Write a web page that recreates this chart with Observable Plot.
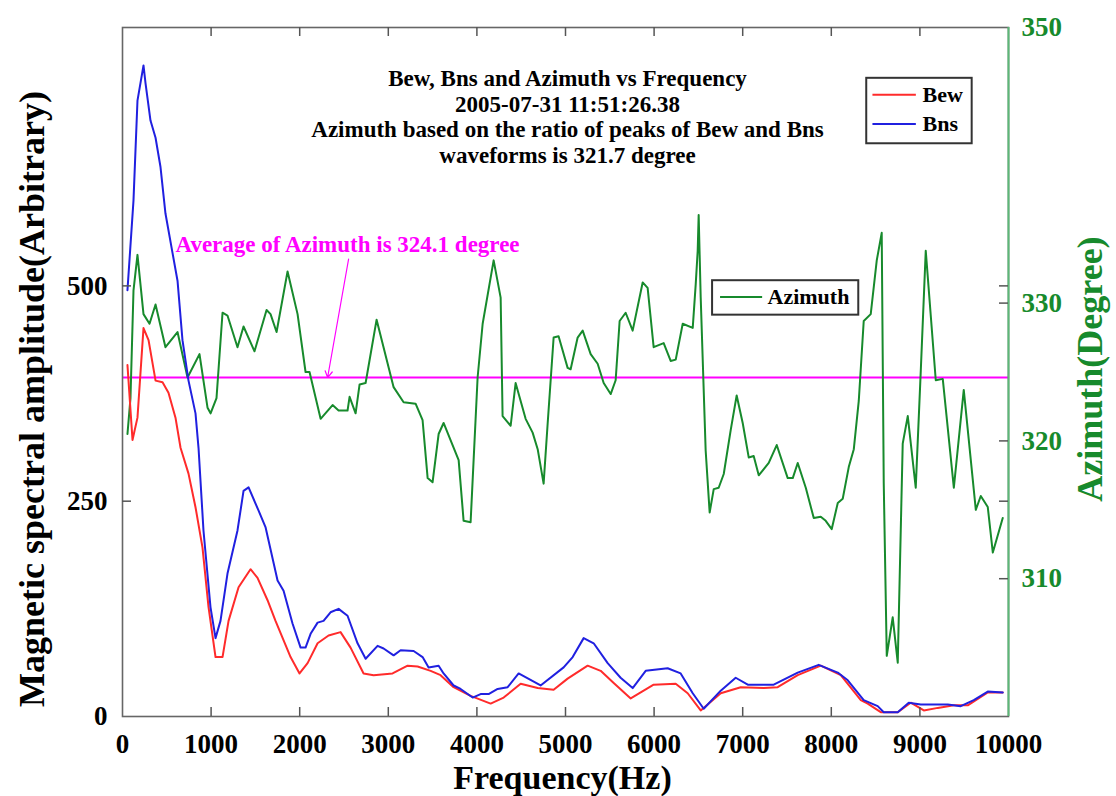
<!DOCTYPE html>
<html><head><meta charset="utf-8">
<script src="https://cdn.jsdelivr.net/npm/d3@7"></script>
<script src="https://cdn.jsdelivr.net/npm/@observablehq/plot@0.6"></script>
<style>html,body{margin:0;background:#fff;} #chart svg{display:block}</style>
</head><body><div id="chart"></div>
<script>
// ---- data ----
const bnsFreq = [56,124,169,237,260,316,373,429,485,565,621,677,745,824,858,914,993,1050,1106,1185,1298,1366,1423,1536,1614,1750,1818,1919,2010,2066,2123,2202,2269,2348,2439,2540,2653,2744,2879,2947,3060,3139,3286,3387,3455,3568,3624,3737,3816,3952,4042,4132,4234,4347,4471,4719,4979,5081,5205,5318,5476,5622,5758,5905,6153,6300,6436,6560,6752,6921,7057,7350,7621,7858,8073,8186,8366,8524,8592,8750,8874,9010,9315,9461,9608,9766,9935];
const bnsAmp  = [495,599,715,756,735,692,672,638,584,538,506,437,390,352,312,216,127,91,111,166,216,262,266,239,220,158,146,108,80,80,96,109,111,121,125,117,85,67,82,79,71,77,76,69,57,59,50,36,32,22,26,26,32,34,50,36,57,69,91,85,62,45,33,53,56,50,27,9,30,45,37,37,51,60,51,42,19,12,5,5,16,14,14,12,19,29,28];

const bewFreq = [56,113,169,237,294,373,452,519,598,655,745,824,903,971,1050,1129,1197,1310,1445,1524,1637,1727,1897,1998,2089,2202,2326,2461,2574,2721,2834,3048,3218,3331,3478,3590,3737,3929,4155,4302,4494,4686,4866,5024,5250,5397,5544,5736,5995,6244,6379,6526,6752,6978,7237,7395,7621,7881,8107,8333,8411,8558,8750,8897,9044,9202,9383,9540,9766,9935];
const bewAmp  = [408,321,347,451,437,390,388,376,347,312,282,243,196,127,69,69,111,150,171,161,135,111,69,50,62,85,94,98,80,50,48,50,59,58,53,48,34,24,15,22,38,33,31,44,59,53,39,21,37,38,27,7,27,34,33,34,48,59,48,19,15,5,5,16,7,10,13,13,28,28];

const aziFreq = [56,90,124,169,237,305,373,485,621,734,869,960,994,1061,1129,1185,1298,1366,1490,1626,1671,1739,1863,1976,2066,2111,2236,2371,2439,2540,2563,2631,2676,2744,2868,3060,3173,3308,3387,3444,3500,3568,3624,3794,3850,3929,4008,4065,4189,4268,4290,4381,4437,4550,4629,4686,4753,4799,4866,4922,5024,5058,5137,5194,5284,5363,5431,5510,5566,5611,5679,5758,5871,5927,5995,6108,6187,6244,6323,6436,6470,6492,6503,6526,6582,6627,6673,6729,6786,6865,6932,7000,7068,7124,7181,7294,7384,7508,7565,7621,7712,7802,7881,7937,8005,8073,8129,8197,8254,8310,8366,8445,8513,8569,8592,8626,8693,8750,8806,8863,8953,9010,9066,9179,9258,9383,9495,9631,9687,9766,9823,9935];
const aziDeg  = [320.5,323.1,330.9,333.5,329.2,328.5,329.9,326.8,327.9,324.6,326.3,322.4,322.0,323.1,329.3,329.1,326.8,328.3,326.5,329.5,329.2,327.9,332.3,329.2,325.0,325.0,321.6,322.6,322.2,322.2,323.2,322.0,324.1,324.2,328.8,323.9,322.8,322.7,321.5,317.3,317.0,320.5,321.3,318.6,314.2,314.1,324.6,328.5,333.1,330.4,321.8,321.1,324.2,321.6,320.6,319.4,316.9,321.3,327.5,327.6,325.3,325.2,327.5,328.0,326.3,325.6,324.2,323.4,324.4,328.7,329.3,328.0,331.5,331.1,326.8,327.1,325.8,325.9,328.5,328.2,331.4,333.8,336.4,330.4,319.3,314.8,316.5,316.6,317.6,320.8,323.3,321.3,318.8,318.9,317.5,318.4,319.7,317.3,317.3,318.4,316.6,314.4,314.5,314.2,313.6,315.5,315.8,318.1,319.4,322.9,328.7,329.2,333.1,335.1,316.9,304.4,307.2,303.9,319.8,321.8,316.6,325.1,333.8,324.4,324.5,316.6,323.7,315.0,316.0,315.2,311.9,314.4];

const averageLineDeg = 324.6;           // horizontal magenta line as drawn
const xTicks = [0,1000,2000,3000,4000,5000,6000,7000,8000,9000,10000];
const leftTicks = [0,250,500];
const rightTicks = [310,320,330,350];
const leftDomain = [0,800];
const rightDomain = [300,350];
const titleLines = ["Bew, Bns and Azimuth vs Frequency","2005-07-31 11:51:26.38","Azimuth based on the ratio of peaks of Bew and Bns","waveforms is 321.7 degree"];
const avgText = "Average of Azimuth is 324.1 degree";
const xLabel = "Frequency(Hz)";
const yLabel = "Magnetic spectral amplitude(Arbitrary)";
const y2Label = "Azimuth(Degree)";

// ---- build ----
const red = "#ff2b2b", blue = "#2020e0", green = "#178a2c", magenta = "#ff00ff", axisGreen = "#5cb878";
const font = "'Liberation Serif','Times New Roman',serif";
const toL = d => (d - rightDomain[0]) * (leftDomain[1] - leftDomain[0]) / (rightDomain[1] - rightDomain[0]) + leftDomain[0];
const fromL = v => Math.round((v - leftDomain[0]) * (rightDomain[1] - rightDomain[0]) / (leftDomain[1] - leftDomain[0]) + rightDomain[0]);

const bns = bnsFreq.map((f, i) => ({f, v: bnsAmp[i]}));
const bew = bewFreq.map((f, i) => ({f, v: bewAmp[i]}));
const azi = aziFreq.map((f, i) => ({f, v: toL(aziDeg[i])}));

const chart = Plot.plot({
  width: 1116, height: 796,
  marginLeft: 122, marginRight: 108, marginTop: 27, marginBottom: 80,
  style: {fontFamily: font, background: "#fff", overflow: "visible"},
  x: {domain: [0, 10000]},
  y: {domain: leftDomain},
  marks: [
    Plot.ruleY([toL(averageLineDeg)], {stroke: magenta, strokeWidth: 2}),
    Plot.line(azi, {x: "f", y: "v", stroke: green, strokeWidth: 2}),
    Plot.line(bew, {x: "f", y: "v", stroke: red, strokeWidth: 2}),
    Plot.line(bns, {x: "f", y: "v", stroke: blue, strokeWidth: 2}),
    Plot.frame({stroke: "#666", strokeWidth: 1.6}),
    Plot.ruleX([10000], {stroke: axisGreen, strokeWidth: 2}),
    // inward tick marks
    Plot.tickX(xTicks.slice(1, -1), {x: d => d, insetTop: 680, stroke: "#555", strokeWidth: 1.5}),
    Plot.tickX(xTicks.slice(1, -1), {x: d => d, insetBottom: 680, stroke: "#555", strokeWidth: 1.5}),
    Plot.tickY(leftTicks.slice(1), {y: d => d, insetRight: 877, stroke: "#555", strokeWidth: 1.5}),
    Plot.tickY(leftTicks.slice(1), {y: d => d, insetLeft: 877, stroke: "#555", strokeWidth: 1.5}),
    Plot.tickY(rightTicks.slice(0, -1).map(toL), {y: d => d, insetLeft: 877, stroke: "#555", strokeWidth: 1.5}),
    // axes labels
    Plot.axisX(xTicks, {tickSize: 0, tickPadding: 17, tickFormat: d => String(d), fontSize: 27, fontWeight: "bold", fill: "#000", label: null}),
    Plot.axisY(leftTicks, {anchor: "left", tickSize: 0, tickPadding: 15, tickFormat: d => String(d), fontSize: 27, fontWeight: "bold", fill: "#000", label: null}),
    Plot.axisY(rightTicks.map(toL), {anchor: "right", tickSize: 0, tickPadding: 13, tickFormat: fromL, fontSize: 27, fontWeight: "bold", fill: green, label: null}),
    Plot.text([xLabel], {text: d => d, frameAnchor: "bottom", textAnchor: "middle", lineAnchor: "middle", dx: -3, dy: 62, fontSize: 34, fontWeight: "bold", fill: "#000"}),
    Plot.text([yLabel], {text: d => d, frameAnchor: "left", textAnchor: "middle", lineAnchor: "middle", dx: -90, dy: 27, rotate: -90, fontSize: 36, fontWeight: "bold", fill: "#000"}),
    Plot.text([y2Label], {text: d => d, frameAnchor: "right", textAnchor: "middle", lineAnchor: "middle", dx: 82, dy: -3, rotate: -90, fontSize: 36, fontWeight: "bold", fill: green}),
    // title
    Plot.text([titleLines.join("\n")], {text: d => d, frameAnchor: "top", textAnchor: "middle", dx: 2, dy: 40, lineAnchor: "top", lineHeight: 1.12, fontSize: 23, fontWeight: "bold", fill: "#000"}),
    // average annotation
    Plot.text([avgText], {text: d => d, x: 2540, y: 548, fontSize: 23, fontWeight: "bold", fill: magenta}),
    Plot.arrow([0], {x1: 2552, y1: toL(333.2), x2: 2315, y2: toL(averageLineDeg), stroke: magenta, strokeWidth: 1.2, headLength: 9}),
    // legend Bew/Bns
    Plot.rect([0], {x1: 8400, x2: 9590, y1: 665, y2: 741, fill: "#fff", stroke: "#333", strokeWidth: 2}),
    Plot.ruleY([722], {x1: 8470, x2: 8960, stroke: red, strokeWidth: 2}),
    Plot.ruleY([688], {x1: 8470, x2: 8960, stroke: blue, strokeWidth: 2}),
    Plot.text(["Bew"], {text: d => d, x: 9030, y: 722, textAnchor: "start", fontSize: 22, fontWeight: "bold", fill: "#000"}),
    Plot.text(["Bns"], {text: d => d, x: 9030, y: 688, textAnchor: "start", fontSize: 22, fontWeight: "bold", fill: "#000"}),
    // legend Azimuth
    Plot.rect([0], {x1: 6660, x2: 8310, y1: 466, y2: 506, fill: "#fff", stroke: "#333", strokeWidth: 2}),
    Plot.ruleY([487], {x1: 6750, x2: 7225, stroke: green, strokeWidth: 2}),
    Plot.text(["Azimuth"], {text: d => d, x: 7280, y: 487, textAnchor: "start", fontSize: 22, fontWeight: "bold", fill: "#000"})
  ]
});
document.getElementById("chart").appendChild(chart);
</script>
</body></html>
